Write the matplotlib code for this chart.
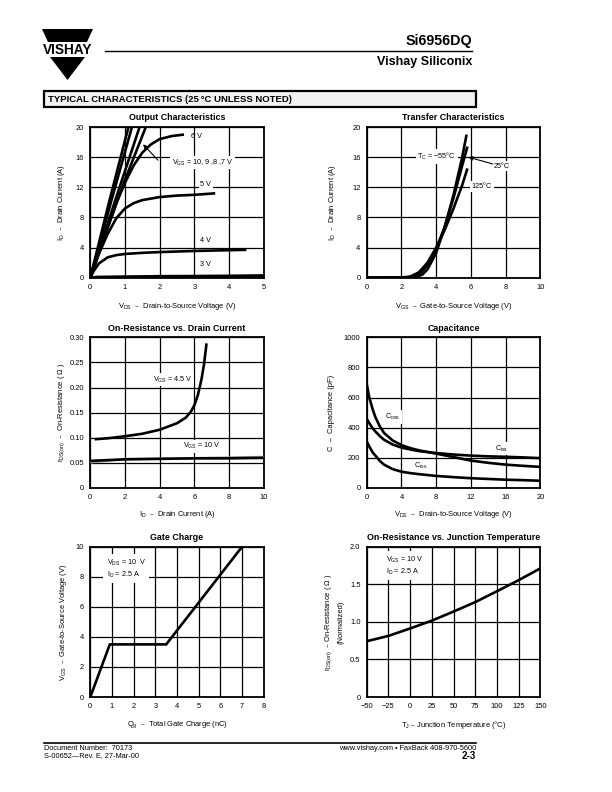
import numpy as np
import matplotlib.pyplot as plt
from matplotlib.patches import Polygon, Rectangle
from matplotlib.lines import Line2D

plt.rcParams['font.family'] = ['Liberation Sans', 'DejaVu Sans']
plt.rcParams['mathtext.default'] = 'regular'

# ============================================================
# DATA
# ============================================================

# Output characteristics: VDS (V) -> ID (A) for each VGS
out_vds_10v = [0, 0.55, 1.1]
out_id_10v = [0, 10.2, 20]
out_vds_9v = [0, 0.6, 1.2]
out_id_9v = [0, 10.1, 20]
out_vds_8v = [0, 0.7, 1.42]
out_id_8v = [0, 10.0, 20]
out_vds_7v = [0, 0.5, 1.0, 1.6]
out_id_7v = [0, 6.6, 13.0, 20]
out_vds_6v = [0, 0.25, 0.5, 0.75, 1.0, 1.25, 1.5, 1.75, 2.0, 2.35, 2.7]
out_id_6v = [0, 3.3, 6.7, 9.9, 12.6, 14.9, 16.6, 17.7, 18.4, 18.8, 19.0]
out_vds_5v = [0, 0.25, 0.5, 0.75, 1.0, 1.25, 1.5, 2.0, 2.5, 3.0, 3.6]
out_id_5v = [0, 3.2, 5.8, 7.9, 9.2, 9.9, 10.3, 10.7, 10.9, 11.0, 11.2]
out_vds_4v = [0, 0.1, 0.25, 0.5, 0.75, 1.0, 1.5, 2.0, 3.0, 4.0, 4.5]
out_id_4v = [0, 0.9, 1.9, 2.7, 3.0, 3.15, 3.3, 3.4, 3.55, 3.65, 3.7]
out_vds_3v = [0, 0.2, 1, 2, 3, 4, 5]
out_id_3v = [0, 0.1, 0.15, 0.2, 0.22, 0.25, 0.3]
out_vds_2v = [0, 5]
out_id_2v = [0.05, 0.05]

# Transfer characteristics: VGS (V) -> ID (A) per case temperature
tr_vgs_m55 = [0, 2.8, 3.2, 3.5, 4.0, 4.5, 5.0, 5.5, 5.75]
tr_id_m55 = [0, 0.05, 0.4, 1.1, 3.3, 6.8, 11.0, 16.0, 19.0]
tr_vgs_25 = [0, 2.5, 3.0, 3.5, 4.0, 4.5, 5.0, 5.5, 5.8]
tr_id_25 = [0, 0.05, 0.4, 1.6, 3.8, 6.8, 10.6, 14.9, 17.4]
tr_vgs_125 = [0, 2.0, 2.5, 3.0, 3.5, 4.0, 4.5, 5.0, 5.5, 5.8]
tr_id_125 = [0, 0.02, 0.15, 0.7, 2.0, 4.0, 6.4, 9.2, 12.3, 14.5]

# On-resistance vs drain current
ron_id_45v = [0.25, 1, 2, 3, 4, 5, 5.5, 5.8, 6.0, 6.2, 6.4, 6.55, 6.7]
ron_r_45v = [0.097, 0.099, 0.103, 0.108, 0.116, 0.129, 0.140, 0.152,
             0.165, 0.185, 0.215, 0.245, 0.288]
ron_id_10v = [0, 2, 4, 6, 8, 10]
ron_r_10v = [0.054, 0.057, 0.058, 0.059, 0.059, 0.060]
ron_id_10v_b = [0, 1, 2, 5, 10]
ron_r_10v_b = [0.051, 0.054, 0.058, 0.059, 0.062]
ron_yticklabels = ['0', '0.05', '0.10', '0.15', '0.20', '0.25', '0.30']

# Capacitance vs VDS
cap_vds = [0, 0.3, 0.7, 1, 1.5, 2, 3, 4, 5, 6, 8, 10, 12, 14, 16, 18, 20]
cap_coss = [690, 600, 520, 470, 410, 365, 315, 285, 265, 250, 228, 205,
            182, 167, 155, 147, 140]
cap_ciss = [460, 430, 395, 375, 345, 320, 288, 268, 256, 245, 232, 222,
            215, 210, 207, 203, 198]
cap_crss = [310, 275, 235, 215, 180, 155, 125, 108, 99, 92, 80, 72,
            65, 60, 55, 52, 48]

# Gate charge
gc_q = [0, 0.9, 3.5, 7.0]
gc_v = [0, 3.5, 3.5, 10.0]

# On-resistance vs junction temperature (normalized)
rt_tj = [-50, -25, 0, 25, 50, 75, 100, 125, 150]
rt_r = [0.742, 0.813, 0.912, 1.016, 1.137, 1.263, 1.407, 1.555, 1.712]
rt_xticklabels = ['\u221250', '\u221225', '0', '25', '50', '75',
                  '100', '125', '150']
rt_yticklabels = ['0', '0.5', '1.0', '1.5', '2.0']

# ============================================================
# FIGURE / PAGE FRAME
# ============================================================

W, H = 612, 792
fig = plt.figure(figsize=(6.12, 7.92), dpi=100)


def fx(x):
    return x / W


def fy(y):
    return 1 - y / H


def page_text(x, y, s, **kw):
    fig.text(fx(x), fy(y), s, **kw)


def page_line(x0, y0, x1, y1, lw=1.0):
    fig.add_artist(Line2D([fx(x0), fx(x1)], [fy(y0), fy(y1)],
                          transform=fig.transFigure, color='black', lw=lw))


# logo
fig.add_artist(Polygon([(fx(42), fy(29)), (fx(93), fy(29)),
                        (fx(87), fy(42)), (fx(48), fy(42))],
                       closed=True, transform=fig.transFigure,
                       fc='black', ec='none'))
fig.add_artist(Polygon([(fx(50), fy(57)), (fx(85), fy(57)),
                        (fx(67.5), fy(80))],
                       closed=True, transform=fig.transFigure,
                       fc='black', ec='none'))
page_text(67.5, 49.5, 'VISHAY', fontsize=9.8, fontweight='bold',
          ha='center', va='center')

page_line(105, 51, 472, 51, lw=1.0)
page_text(472, 41, 'Si6956DQ', fontsize=10.3, fontweight='bold',
          ha='right', va='center')
page_text(472, 61.5, 'Vishay Siliconix', fontsize=9, fontweight='bold',
          ha='right', va='center')

# section header
fig.add_artist(Rectangle((fx(44), fy(107)), 432 / W, 16 / H,
                         transform=fig.transFigure, fc='#f2f2f2',
                         ec='black', lw=1.6))
page_text(47.5, 99.5, 'TYPICAL CHARACTERISTICS (25\u2009°C UNLESS NOTED)',
          fontsize=6.8, fontweight='heavy', ha='left', va='center')

# footer
page_line(44, 743, 476, 743, lw=1.2)
page_text(44, 748, 'Document Number:  70173', fontsize=5.3,
          ha='left', va='center')
page_text(44, 755.5, 'S-00652\u2014Rev. E, 27-Mar-00', fontsize=5.3,
          ha='left', va='center')
page_text(476, 748, 'www.vishay.com \u2022 FaxBack 408-970-5600',
          fontsize=5.3, ha='right', va='center')
page_text(476, 756, '2-3', fontsize=7, fontweight='bold',
          ha='right', va='center')

# ============================================================
# AXES HELPER
# ============================================================

LEFT_COL = (90.3, 263.8)
RIGHT_COL = (366.7, 540.4)
ROW1 = (127, 277.7)
ROW2 = (337.3, 488)
ROW3 = (546.7, 697)


def make_axes(col, row, xlim, ylim, xticks, yticks, title,
              xlabel, ylabel, ylab_x, xlab_y=-0.15,
              xticklabels=None, yticklabels=None):
    l, r = col
    t, b = row
    ax = fig.add_axes([fx(l), fy(b), (r - l) / W, (b - t) / H])
    ax.set_xlim(xlim)
    ax.set_ylim(ylim)
    ax.set_xticks(xticks)
    ax.set_yticks(yticks)
    if xticklabels is not None:
        ax.set_xticklabels(xticklabels)
    if yticklabels is not None:
        ax.set_yticklabels(yticklabels)
    ax.grid(True, color='black', lw=0.9)
    ax.set_axisbelow(True)
    ax.tick_params(length=0, labelsize=5.4, pad=4.5)
    for s in ax.spines.values():
        s.set_linewidth(1.3)
    ax.text(0.5, 1.06, title, transform=ax.transAxes, ha='center',
            va='center', fontsize=6.4, fontweight='bold')
    ax.set_xlabel(xlabel, fontsize=5.4)
    ax.xaxis.set_label_coords(0.5, xlab_y)
    ax.set_ylabel(ylabel, fontsize=5.4, linespacing=1.6)
    ax.yaxis.set_label_coords(ylab_x, 0.5)
    return ax


def curve(ax, x, y, **kw):
    kw.setdefault('color', 'black')
    kw.setdefault('lw', 1.9)
    ax.plot(x, y, solid_capstyle='butt', zorder=3, **kw)


def arrow(ax, tip, tail):
    ax.annotate('', xy=tip, xytext=tail,
                arrowprops=dict(arrowstyle='-|>', color='black', lw=0.8,
                                mutation_scale=6, shrinkA=0, shrinkB=0),
                zorder=4)


box = dict(fc='white', ec='none', pad=1.2)
lab_fs = 5.2

# ============================================================
# 1. OUTPUT CHARACTERISTICS
# ============================================================

ax1 = make_axes(LEFT_COL, ROW1, (0, 5), (0, 20), range(0, 6),
                range(0, 21, 4), 'Output Characteristics',
                'V$_{DS}$  \u2013  Drain-to-Source Voltage (V)',
                'I$_{D}$  \u2013  Drain Current (A)', -0.133, xlab_y=-0.155)
for xs, ys in [(out_vds_10v, out_id_10v), (out_vds_9v, out_id_9v),
               (out_vds_8v, out_id_8v), (out_vds_7v, out_id_7v),
               (out_vds_6v, out_id_6v), (out_vds_5v, out_id_5v),
               (out_vds_4v, out_id_4v), (out_vds_3v, out_id_3v),
               (out_vds_2v, out_id_2v)]:
    curve(ax1, xs, ys)

ax1.text(2.9, 18.8, '6 V', fontsize=lab_fs, va='center')
ax1.text(2.35, 15.3, 'V$_{GS}$ = 10, 9 ,8 ,7 V', fontsize=lab_fs,
         va='center', bbox=box, zorder=4)
arrow(ax1, (1.52, 17.7), (1.95, 15.6))
ax1.text(3.17, 12.4, '5 V', fontsize=lab_fs, va='center', bbox=box, zorder=4)
ax1.text(3.17, 5.0, '4 V', fontsize=lab_fs, va='center', bbox=box, zorder=4)
ax1.text(3.17, 1.8, '3 V', fontsize=lab_fs, va='center', bbox=box, zorder=4)

# ============================================================
# 2. TRANSFER CHARACTERISTICS
# ============================================================

ax2 = make_axes(RIGHT_COL, ROW1, (0, 10), (0, 20), range(0, 11, 2),
                range(0, 21, 4), 'Transfer Characteristics',
                'V$_{GS}$  \u2013  Gate-to-Source Voltage (V)',
                'I$_{D}$  \u2013  Drain Current (A)', -0.167, xlab_y=-0.155)
curve(ax2, tr_vgs_m55, tr_id_m55)
curve(ax2, tr_vgs_25, tr_id_25)
curve(ax2, tr_vgs_125, tr_id_125)
ax2.text(2.92, 16.1, 'T$_{C}$ = \u221255°C', fontsize=lab_fs, va='center',
         bbox=box, zorder=2.5)
ax2.text(7.3, 14.8, '25°C', fontsize=lab_fs, va='center', bbox=box, zorder=4)
arrow(ax2, (5.85, 16.0), (7.25, 15.1))
ax2.text(6.05, 12.1, '125°C', fontsize=lab_fs, va='center', bbox=box,
         zorder=4)

# ============================================================
# 3. ON-RESISTANCE VS DRAIN CURRENT
# ============================================================

ax3 = make_axes(LEFT_COL, ROW2, (0, 10), (0, 0.30), range(0, 11, 2),
                [0, 0.05, 0.10, 0.15, 0.20, 0.25, 0.30],
                'On-Resistance vs. Drain Current',
                'I$_{D}$  \u2013  Drain Current (A)',
                'r$_{DS(on)}$  \u2013  On-Resistance ( \u03a9 )', -0.133,
                xlab_y=-0.14, yticklabels=ron_yticklabels)
curve(ax3, ron_id_45v, ron_r_45v)
curve(ax3, ron_id_10v_b, ron_r_10v_b, color='#9a9a9a', lw=1.6)
curve(ax3, ron_id_10v, ron_r_10v)
ax3.text(3.6, 0.216, 'V$_{GS}$ = 4.5 V', fontsize=lab_fs, va='center',
         bbox=box, zorder=4)
ax3.text(5.35, 0.083, 'V$_{GS}$ = 10 V', fontsize=lab_fs, va='center',
         bbox=box, zorder=4)

# ============================================================
# 4. CAPACITANCE
# ============================================================

ax4 = make_axes(RIGHT_COL, ROW2, (0, 20), (0, 1000), range(0, 21, 4),
                range(0, 1001, 200), 'Capacitance',
                'V$_{DS}$  \u2013  Drain-to-Source Voltage (V)',
                'C  \u2013  Capacitance (pF)', -0.185, xlab_y=-0.14)
curve(ax4, cap_vds, cap_coss)
curve(ax4, cap_vds, cap_ciss)
curve(ax4, cap_vds, cap_crss)
ax4.text(2.15, 470, 'C$_{oss}$', fontsize=lab_fs, va='center', bbox=box,
         zorder=2.5)
ax4.text(14.8, 262, 'C$_{iss}$', fontsize=lab_fs, va='center', bbox=box,
         zorder=2.5)
ax4.text(5.4, 144, 'C$_{rss}$', fontsize=lab_fs, va='center', bbox=box,
         zorder=2.5)

# ============================================================
# 5. GATE CHARGE
# ============================================================

ax5 = make_axes(LEFT_COL, ROW3, (0, 8), (0, 10), range(0, 9),
                range(0, 11, 2), 'Gate Charge',
                'Q$_{g}$  \u2013  Total Gate Charge (nC)',
                'V$_{GS}$  \u2013  Gate-to-Source Voltage (V)', -0.122,
                xlab_y=-0.146)
curve(ax5, gc_q, gc_v)
ax5.text(0.75, 8.55, 'V$_{DS}$ = 10  V\nI$_{D}$ = 2.5 A', fontsize=lab_fs,
         va='center', linespacing=1.25,
         bbox=dict(fc='white', ec='none', pad=2.5), zorder=4)

# ============================================================
# 6. ON-RESISTANCE VS JUNCTION TEMPERATURE
# ============================================================

ax6 = make_axes(RIGHT_COL, ROW3, (-50, 150), (0, 2.0), range(-50, 151, 25),
                [0, 0.5, 1.0, 1.5, 2.0],
                'On-Resistance vs. Junction Temperature',
                'T$_{J}$ \u2013 Junction Temperature (°C)',
                'r$_{DS(on)}$  \u2013 On-Resistance ( \u03a9 )\n(Normalized)',
                -0.13, xlab_y=-0.146,
                xticklabels=rt_xticklabels, yticklabels=rt_yticklabels)
curve(ax6, rt_tj, rt_r)
ax6.text(-28, 1.745, 'V$_{GS}$ = 10 V\nI$_{D}$ = 2.5 A', fontsize=lab_fs,
         va='center', linespacing=1.25,
         bbox=dict(fc='white', ec='none', pad=2.5), zorder=4)

fig.savefig('out.png', dpi=100)
